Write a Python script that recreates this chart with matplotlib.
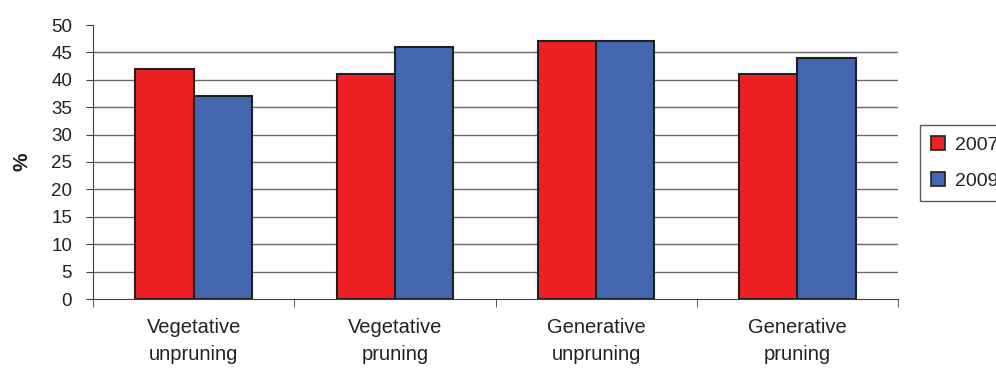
import matplotlib
matplotlib.use("Agg")
import matplotlib.pyplot as plt
import numpy as np
from matplotlib.patches import Patch

categories = ["Vegetative\nunpruning", "Vegetative\npruning", "Generative\nunpruning", "Generative\npruning"]
series_names = ["2007", "2009"]
values_2007 = [42, 41, 47, 41]
values_2009 = [37, 46, 47, 44]
yticks = list(range(0, 55, 5))

plt.rcParams['font.family'] = ['Liberation Sans', 'DejaVu Sans']

fig = plt.figure(figsize=(9.96, 3.69), dpi=100)
ax = fig.add_axes([93/996, 1-299/369, (898-93)/996, (299-25)/369])

x = np.arange(len(categories))
w = 0.29
red = '#EE2024'
blue = '#4466AE'
ax.bar(x - w/2, values_2007, w, color=red, edgecolor='#202020', linewidth=1.5, zorder=3)
ax.bar(x + w/2, values_2009, w, color=blue, edgecolor='#202020', linewidth=1.5, zorder=3)

ax.set_xlim(-0.5, 3.5)
ax.set_ylim(0, 50)
ax.set_yticks(yticks)
ax.set_yticklabels([str(t) for t in yticks], fontsize=13.5, color='#222222')
for t in yticks[1:-1]:
    ax.axhline(t, color='#6a6a6a', linewidth=1.0, zorder=1)

ax.set_xticks(x)
ax.set_xticklabels(categories, fontsize=14.5, linespacing=1.5, color='#222222')
ax.tick_params(axis='x', length=0, pad=14)
ax.set_xticks(np.arange(-0.5, 4.0, 1.0), minor=True)
ax.tick_params(axis='x', which='minor', length=6, direction='out', color='#404040')
ax.tick_params(axis='y', length=5, direction='out', color='#404040', pad=10)

for s in ['top', 'right']:
    ax.spines[s].set_visible(False)
ax.spines['left'].set_color('#404040')
ax.spines['bottom'].set_color('#404040')

ax.set_ylabel('%', fontsize=15, fontweight='bold', labelpad=14, color='#222222')

handles = [Patch(facecolor=red, edgecolor='#202020', linewidth=1.2),
           Patch(facecolor=blue, edgecolor='#202020', linewidth=1.2)]
leg = fig.legend(handles, series_names, loc='upper left',
                 bbox_to_anchor=(920/996, 1-125/369), fontsize=14,
                 frameon=True, fancybox=False, edgecolor='#303030',
                 handlelength=0.75, handleheight=0.75, handletextpad=0.5,
                 borderpad=0.55, labelspacing=0.95, borderaxespad=0)
leg.get_frame().set_linewidth(1.0)
for t in leg.get_texts():
    t.set_color('#222222')

fig.savefig('out.png', dpi=100)
